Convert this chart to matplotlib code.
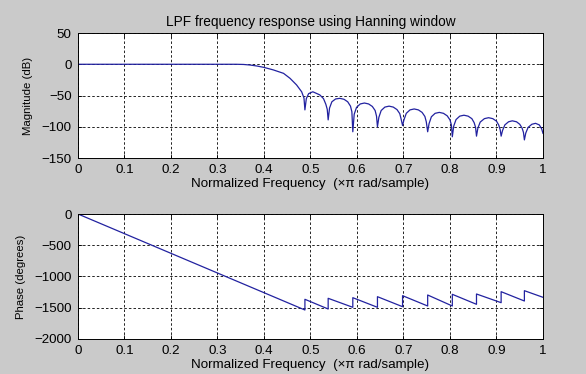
import numpy as np
import matplotlib.pyplot as plt

# ============================================================
# Data (frequency in x pi rad/sample)
# ============================================================
mag_freq = [0.0, 0.34, 0.356, 0.37, 0.385, 0.40, 0.42, 0.442, 0.456, 0.470, 0.481, 0.486, 0.488,
            0.491, 0.496, 0.505, 0.520, 0.528, 0.533, 0.536, 0.538,
            0.541, 0.546, 0.554, 0.563, 0.572, 0.580, 0.586, 0.589, 0.591,
            0.594, 0.599, 0.607, 0.616, 0.625, 0.633, 0.639, 0.642, 0.644,
            0.647, 0.652, 0.660, 0.669, 0.678, 0.686, 0.692, 0.695, 0.698,
            0.701, 0.706, 0.714, 0.723, 0.732, 0.740, 0.746, 0.749, 0.752,
            0.755, 0.760, 0.768, 0.777, 0.786, 0.794, 0.800, 0.803, 0.805,
            0.808, 0.813, 0.821, 0.830, 0.839, 0.847, 0.852, 0.855, 0.857,
            0.860, 0.865, 0.874, 0.883, 0.892, 0.900, 0.905, 0.908, 0.910,
            0.913, 0.918, 0.926, 0.934, 0.943, 0.950, 0.955, 0.958, 0.960,
            0.963, 0.968, 0.976, 0.984, 0.992, 0.997, 1.0]
mag_db = [0.0, 0.0, -0.3, -1.2, -2.8, -5.0, -9.0, -14.5, -22.5, -33.0, -44.0, -54.0, -73.0,
          -55.0, -47.0, -44.0, -49.0, -55.0, -64.0, -72.0, -89.0,
          -70.0, -60.0, -55.5, -54.5, -56.0, -60.0, -67.0, -76.0, -108.0,
          -80.0, -69.0, -63.5, -62.0, -63.5, -67.5, -74.0, -83.0, -100.0,
          -85.0, -74.0, -68.5, -67.0, -68.5, -72.5, -79.0, -88.0, -98.0,
          -89.0, -78.5, -73.0, -71.5, -73.0, -77.0, -83.5, -92.0, -108.0,
          -95.0, -84.0, -78.5, -77.0, -78.5, -82.5, -89.0, -97.0, -116.0,
          -99.0, -88.5, -83.0, -81.5, -83.0, -87.0, -93.5, -101.0, -115.0,
          -102.0, -92.5, -87.0, -85.5, -87.0, -91.0, -97.5, -105.0, -115.0,
          -106.0, -97.0, -92.0, -90.5, -92.0, -96.0, -102.0, -109.0, -121.0,
          -110.0, -101.0, -96.0, -94.5, -97.0, -103.0, -110.5]

# phase: linear drop, then a +180 jump at every stopband null
phase_freq = [0.0, 0.488, 0.488, 0.538, 0.538, 0.591, 0.591, 0.644, 0.644, 0.698, 0.698,
              0.752, 0.752, 0.805, 0.805, 0.857, 0.857, 0.910, 0.910, 0.960, 0.960, 1.0]
phase_deg = [0, -1536, -1365, -1520, -1349, -1493, -1339, -1493, -1323, -1483, -1307,
             -1472, -1296, -1472, -1285, -1445, -1280, -1419, -1243, -1392, -1227, -1333]

x_ticks = [0, 0.1, 0.2, 0.3, 0.4, 0.5, 0.6, 0.7, 0.8, 0.9, 1]
x_ticklabels = ['0', '0.1', '0.2', '0.3', '0.4', '0.5', '0.6', '0.7', '0.8', '0.9', '1']
mag_ticks = [50, 0, -50, -100, -150]
phase_ticks = [0, -500, -1000, -1500, -2000]

# ============================================================
# Plot
# ============================================================
plt.rcParams['font.family'] = ['Liberation Sans', 'DejaVu Sans']
plt.rcParams['font.size'] = 9.6

bg = '#cacaca'
line_col = '#2222a0'
fig = plt.figure(figsize=(5.86, 3.74), dpi=100, facecolor=bg)
ax1 = fig.add_axes([0.1331, 0.5775, 0.7935, 0.3342])
ax2 = fig.add_axes([0.1331, 0.0936, 0.7935, 0.3342])

xlabel = 'Normalized Frequency  (\u00d7\u03c0 rad/sample)'

for ax, x, y, ticks, ylab in [(ax1, mag_freq, mag_db, mag_ticks, 'Magnitude (dB)'),
                              (ax2, phase_freq, phase_deg, phase_ticks, 'Phase (degrees)')]:
    ax.plot(x, y, color=line_col, linewidth=0.9)
    ax.set_xlim(0, 1)
    ax.set_ylim(min(ticks), max(ticks))
    ax.set_xticks(x_ticks)
    ax.set_xticklabels(x_ticklabels)
    ax.set_yticks(ticks)
    ax.grid(True, color='black', linestyle=(0, (3, 2.5)), linewidth=0.6)
    ax.tick_params(direction='in', length=3, width=0.6, top=True, right=True, pad=4.5)
    for s in ax.spines.values():
        s.set_linewidth(0.7)
    ax.set_xlabel(xlabel, labelpad=1.5)
    ax.set_ylabel(ylab, labelpad=6, fontsize=8.2)

ax1.set_title('LPF frequency response using Hanning window', pad=5, fontsize=9.8)

plt.savefig('out.png', dpi=100, facecolor=bg)
